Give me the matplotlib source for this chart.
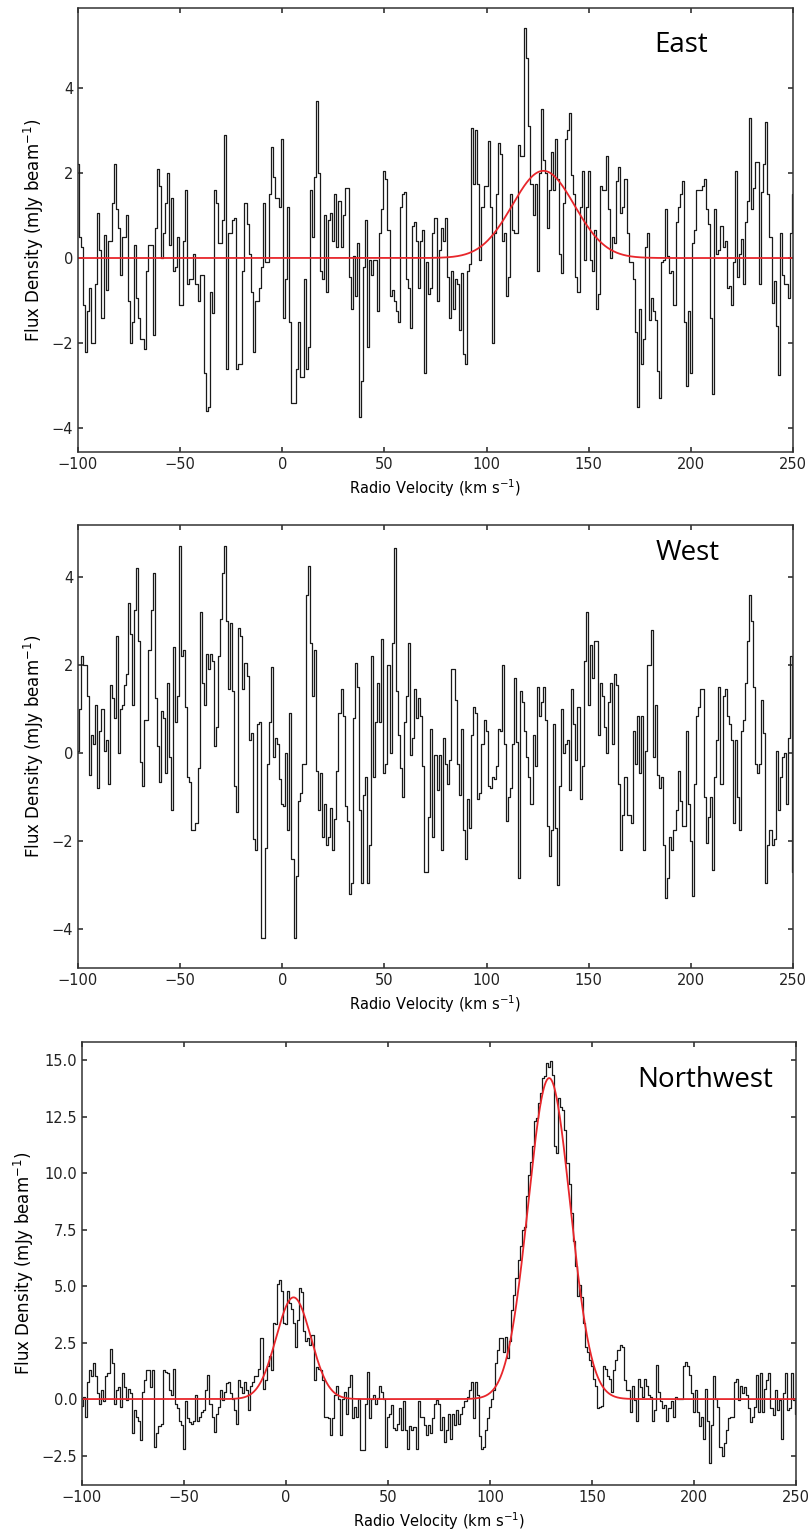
import numpy as np
import matplotlib.pyplot as plt

# channel velocities (km/s), 1 km/s channels
vel = np.arange(-100, 251)

# East spectrum (mJy/beam), one value per channel from -100 to 250
east = [
    2.2, 0.5, 0.25, -1.1, -2.2, -1.25, -0.7, -2.0, -2.0, -0.6,
    1.05, 0.2, -1.4, 0.55, -0.75, 0.4, 0.4, 1.3, 2.2, 1.15,
    0.7, -0.4, 0.5, 0.5, 1.0, -1.0, -2.0, -1.5, 0.3, -0.95,
    -1.4, -1.9, -1.9, -2.15, -0.3, 0.3, 0.3, -1.8, 0.7, 2.1,
    1.7, 0.0, 0.6, 1.3, 2.0, 0.3, 1.4, -0.3, -0.2, 0.5,
    -1.1, -1.1, 0.4, 1.6, -0.6, -0.5, -0.5, 0.1, -0.6, -1.0,
    -0.4, -0.4, -2.7, -3.6, -3.5, -0.8, -1.3, 1.6, 1.3, 0.35,
    0.35, 0.9, 2.9, -2.6, 0.6, 0.6, 0.9, 0.95, -2.6, -2.5,
    -2.5, -0.3, 1.3, 0.8, 0.1, -0.8, -2.2, -1.0, -1.0, -0.7,
    -0.2, 1.3, -0.1, -0.1, 1.5, 2.6, 1.9, 1.4, 1.4, 1.2,
    2.8, -1.4, -0.5, 1.2, -1.5, -3.4, -3.4, -2.6, -1.5, -2.8,
    -2.8, -0.5, -2.6, -2.1, 1.6, 0.5, 1.9, 3.7, 2.0, -0.3,
    -0.5, 1.0, -0.8, 0.9, 1.05, 0.4, 1.5, 0.25, 1.35, 0.25,
    1.0, 1.65, 1.65, -0.45, -1.2, 0.05, -0.9, 0.35, -3.75, -2.9,
    -0.2, 0.9, -2.1, -0.05, -0.4, -0.05, -0.05, -1.25, 0.6, 1.15,
    2.05, 1.85, 0.65, -0.9, -0.75, -1.0, -1.25, -1.5, 1.2, 1.5,
    1.55, -0.5, -0.7, -1.65, 0.75, 0.85, 0.4, -0.7, 0.4, 0.65,
    -2.7, -0.1, -0.85, -0.7, 0.6, 0.95, -1.0, 0.2, 0.7, 0.4,
    0.95, -0.45, -1.4, -0.3, -1.2, -0.5, -0.6, -1.7, -0.35, -2.25,
    -2.5, -0.3, -0.15, 3.05, 1.75, 3.0, 1.75, -0.05, 1.2, 1.7,
    1.7, 2.75, 1.2, -2.0, 0.6, 1.5, 2.7, 2.45, 0.4, 0.6,
    -0.9, -0.45, 1.5, 0.65, 0.6, 0.6, 2.65, 2.4, 2.4, 5.4,
    4.7, 3.1, 1.75, 1.0, 1.75, -0.3, 2.0, 3.5, 2.3, 2.0,
    0.7, 1.6, 2.5, 1.6, 2.8, 1.85, 0.1, -0.35, 1.3, 2.8,
    3.0, 3.4, 1.95, 1.5, -0.45, -0.8, 1.2, 2.05, -0.05, 1.2,
    2.05, -0.05, -0.3, 0.65, -1.2, -0.85, 1.7, 1.6, 1.6, 2.4,
    1.15, 0.0, 0.5, 0.35, 1.8, 2.15, 1.05, 1.2, 1.85, 0.6,
    -0.1, -0.1, -0.5, -1.75, -3.5, -1.2, -2.5, -1.9, 0.25, 0.6,
    -1.45, -0.95, -1.25, -1.45, -2.65, -3.3, -0.1, -0.05, 1.15, 0.05,
    -0.35, -0.3, -1.1, 0.85, 1.2, 1.5, 1.8, -1.5, -3.0, -1.25,
    -2.7, 0.35, 0.65, 1.6, 1.6, 1.6, 1.7, 1.85, 1.15, 0.8,
    -1.4, -3.2, 1.15, 0.1, 0.2, 0.75, 0.25, 0.4, -0.7, -0.65,
    -1.1, -0.1, 2.05, -0.45, 0.1, 0.45, -0.6, 0.85, 1.35, 3.3,
    1.15, 1.65, 2.25, 2.25, -0.6, 1.55, 2.2, 3.2, 1.5, 0.5,
    -1.05, -0.55, -1.6, -2.75, 0.6, -0.4, -0.6, -0.6, -0.95, 0.6,
    1.5,
]

# West spectrum
west = [
    0.05, 1.0, 2.2, 2.0, 2.0, 1.3, -0.5, 0.4, 0.2, 1.1,
    -0.8, 0.5, 1.0, 0.05, 0.3, -0.7, 1.55, 1.25, 0.8, 2.65,
    0.0, 1.0, 1.1, 1.55, 1.8, 3.4, 2.7, 1.1, 3.25, 4.2,
    2.55, -0.2, -0.75, 0.75, 0.75, 2.35, 3.25, 4.1, 1.25, 0.15,
    -0.65, 0.95, 0.8, -0.45, 1.6, -0.1, -1.3, 2.4, 0.7, 1.3,
    4.7, 2.2, 2.35, 1.05, -0.55, -0.65, -1.75, -1.75, -1.6, -0.35,
    3.2, 1.6, 1.1, 2.25, 1.9, 2.25, 2.1, 0.15, 0.6, 2.2,
    3.05, 4.1, 4.7, 3.0, 1.45, 2.95, 1.4, -0.75, -1.35, 2.85,
    2.65, 1.45, 2.05, 1.75, 0.3, 0.45, -1.95, -2.2, 0.65, 0.7,
    -4.2, -4.2, -2.15, -0.25, 0.7, 1.95, -0.1, 0.35, 0.2, -0.6,
    -1.15, -1.2, 0.0, -1.75, 0.9, -2.4, -4.2, -2.8, -1.1, -0.9,
    -0.25, -0.25, 3.6, 4.25, 2.5, 1.3, 2.35, -0.4, -1.3, -0.45,
    -1.9, -1.15, -2.1, -1.9, -1.25, -2.2, -1.5, -0.4, 0.9, 1.45,
    0.85, -1.2, -1.55, -3.2, -2.95, 0.8, 2.05, 1.5, -1.3, -2.95,
    -0.95, -0.55, -2.95, -2.1, 2.2, -0.55, 0.7, 1.6, 0.7, 2.6,
    -0.45, -0.25, 2.0, 0.0, 2.5, 4.65, 1.4, 0.4, -0.35, -1.0,
    0.7, 1.3, 2.5, -0.05, 0.35, 1.45, 0.8, 1.25, 0.85, -0.3,
    -2.7, -2.7, -1.45, 0.55, -1.9, -0.05, -0.85, -0.05, -2.2, 0.35,
    -0.25, -0.7, -0.15, 1.9, 1.9, 1.2, -0.25, -0.95, 0.55, -1.75,
    -2.4, -1.05, -1.7, 0.4, 1.05, 0.9, -1.05, -0.9, 0.2, 0.75,
    0.5, -0.75, -0.8, -0.55, -0.6, -0.3, 0.55, 0.5, 2.0, 0.2,
    -1.55, -1.0, -0.8, 0.2, 1.7, 0.25, -2.85, 1.4, 1.15, 0.5,
    -0.1, -0.55, -1.15, 0.4, -0.3, 1.5, 0.85, 1.15, 1.5, 0.75,
    -1.65, -2.35, -1.75, 0.65, -1.7, -3.0, -0.75, 1.0, 0.0, 0.2,
    0.3, -0.85, 1.45, 0.65, -0.15, 1.05, -1.05, -0.3, 2.1, 3.2,
    1.1, 2.45, 1.7, 2.55, 2.55, 0.4, 1.6, 1.3, 0.6, 0.0,
    1.15, 1.6, 0.2, 1.8, 1.55, -0.7, -2.2, -1.4, -0.55, -1.4,
    -1.4, -1.6, 0.5, -0.25, 0.85, -0.45, 0.85, -2.2, 0.05, 2.0,
    2.0, 2.8, -0.1, 1.1, -0.5, -0.8, -0.55, -2.1, -3.3, -2.85,
    -1.9, -2.2, -1.75, -1.3, -0.4, -1.1, -1.65, -1.65, 0.5, -1.15,
    -2.0, -3.25, -0.7, 0.85, 1.05, 1.45, 1.45, -1.0, -2.05, -1.45,
    -1.0, -2.65, -0.55, 0.3, 1.5, -0.7, 1.3, 1.45, 0.85, 0.65,
    0.3, -1.6, 0.3, -1.0, -1.75, 0.5, 0.75, 1.6, 2.55, 3.6,
    3.0, 1.5, -0.25, -0.45, -0.25, 1.2, 0.45, -2.95, -2.1, -1.75,
    -2.1, -1.95, 0.05, -1.3, -0.55, -0.1, 0.0, -1.15, 0.35, 2.2,
    -2.7,
]

# Northwest spectrum
northwest = [
    -0.3, 0.1, -0.8, 0.75, 1.3, 1.0, 1.6, 1.0, 0.25, -0.2,
    0.4, -0.1, 1.0, 1.15, 2.2, 1.6, -0.2, 0.4, 0.55, -0.35,
    1.15, 0.55, -0.05, 0.45, 0.25, -1.5, -0.5, -0.8, -0.95, -1.8,
    0.3, 0.85, 1.3, 1.3, 0.55, 1.3, -2.1, -1.5, -1.2, -1.1,
    1.3, 1.2, 1.15, 0.4, 0.2, 1.35, -0.2, -0.4, -0.95, -1.15,
    -2.2, -0.1, -0.85, -1.0, -1.1, -0.95, 0.2, -0.95, -0.8, -0.55,
    -0.5, 0.4, 1.05, -0.2, -0.8, -1.45, -0.65, -0.35, 0.4, -0.05,
    0.3, 0.7, 0.75, 0.25, 0.0, -0.5, -1.1, 0.85, 0.55, 0.25,
    0.75, 0.4, -0.5, 0.6, 0.75, 1.0, 1.0, 1.35, 2.7, 0.45,
    0.85, 1.45, 1.9, 1.3, 3.35, 3.3, 5.1, 5.25, 4.8, 3.35,
    3.3, 4.8, 4.25, 4.0, 3.35, 2.3, 3.5, 4.9, 4.75, 3.0,
    2.55, 2.7, 2.4, 2.85, 0.85, 1.4, 1.35, 1.3, 0.85, -0.8,
    -0.8, -0.85, -1.6, -0.85, 0.2, 0.6, 0.0, -1.6, 0.0, 0.3,
    -0.65, 0.55, 1.05, -0.85, -0.35, -0.8, 0.0, -2.25, -2.25, -0.2,
    1.2, -0.85, 0.0, 0.2, -0.2, 0.05, 0.6, 0.3, 0.0, -2.1,
    -0.8, -0.65, -0.25, -1.3, -1.35, -1.1, -0.4, -1.35, -0.1, -1.35,
    -2.2, -1.2, -1.35, -1.25, -2.2, -0.1, -0.8, -0.8, -1.15, -1.6,
    -1.15, -1.5, -0.85, -0.2, -0.05, -0.2, -1.35, -0.8, -1.9, -1.35,
    -0.65, -1.75, -0.65, -1.15, -0.5, -1.1, -0.65, -0.35, -0.1, 0.1,
    0.4, 0.75, -0.85, 0.75, 0.2, -1.65, -2.2, -2.1, -1.35, -0.85,
    -0.35, 0.0, 0.4, 1.6, 2.15, 2.7, 2.7, 2.1, 2.75, 1.8,
    2.55, 3.95, 4.6, 5.35, 6.15, 6.75, 7.5, 7.6, 9.0, 9.9,
    10.5, 11.2, 12.3, 12.45, 13.1, 13.55, 14.2, 14.3, 14.85, 14.7,
    14.95, 14.35, 11.2, 10.9, 13.3, 12.9, 12.8, 11.9, 10.45, 9.5,
    8.25, 7.0, 5.9, 4.55, 5.05, 4.5, 3.35, 2.3, 2.1, 1.75,
    1.45, 0.9, 0.6, -0.4, -0.35, -0.3, 1.45, 1.35, 1.0, 0.9,
    0.3, 1.3, 1.75, 2.15, 2.4, 2.3, 0.85, 0.4, 0.4, -0.55,
    0.6, -0.05, -0.95, 0.9, 0.55, 0.1, 0.9, 0.6, 0.2, 0.1,
    -0.95, -0.5, 1.5, 0.3, -0.1, -0.4, -0.25, -0.95, -0.4, -0.1,
    -0.8, 0.1, 0.0, 0.0, 0.0, 1.45, 1.65, 1.45, 1.05, 0.25,
    -0.55, 0.4, -0.55, -1.2, -0.8, -1.75, 0.45, -0.95, -2.85, -1.15,
    1.0, 0.0, -0.35, -2.1, -2.5, -1.95, -1.35, -0.85, -0.8, -0.8,
    0.75, 0.9, -0.05, 0.6, 0.25, 0.55, 0.2, -0.4, -1.0, -0.8,
    -0.35, 1.05, -0.55, 1.15, -0.55, 0.45, 0.85, 1.15, -0.4, -0.7,
    0.4, -0.5, -0.05, -1.75, 0.25, 1.15, -0.5, -0.4, 1.15, -0.05,
    -0.65,
]

# gaussian fits: (amplitude, centre, sigma)
east_fit = [(2.05, 127.8, 15.2)]
west_fit = []
northwest_fit = [(4.5, 3.7, 8.5), (14.2, 129.0, 10.3)]

names = ['East', 'West', 'Northwest']
spectra = [east, west, northwest]
fits = [east_fit, west_fit, northwest_fit]
ylims = [(-4.56, 5.88), (-4.89, 5.18), (-3.8, 15.8)]
yticks = [[-4, -2, 0, 2, 4], [-4, -2, 0, 2, 4],
          [-2.5, 0.0, 2.5, 5.0, 7.5, 10.0, 12.5, 15.0]]
xticks = [-100, -50, 0, 50, 100, 150, 200, 250]

# axes boxes in figure fraction
boxes = [[0.0963, 0.7050, 0.8827, 0.2898],
         [0.0963, 0.3681, 0.8827, 0.2892],
         [0.1012, 0.0307, 0.8815, 0.2892]]
label_pos = [(0.843, 0.917), (0.852, 0.937), (0.873, 0.914)]

fig = plt.figure(figsize=(8.1, 15.32), dpi=100)

for i in range(3):
    ax = fig.add_axes(boxes[i])
    flux = np.array(spectra[i])
    v = vel[:len(flux)]
    ax.step(v, flux, where='mid', color='#1a1a1a', lw=0.9)

    if fits[i]:
        vv = np.linspace(-100, 250, 1400)
        model = np.zeros_like(vv)
        for a, mu, sig in fits[i]:
            model += a * np.exp(-0.5 * ((vv - mu) / sig) ** 2)
        ax.plot(vv, model, color='#e8262b', lw=1.3)

    ax.set_xlim(-100, 250)
    ax.set_ylim(*ylims[i])
    ax.set_xticks(xticks)
    ax.set_yticks(yticks[i])
    ax.tick_params(direction='in', top=True, right=True, length=3.6,
                   width=1.1, labelsize=10.5, colors='#222222')
    for s in ax.spines.values():
        s.set_linewidth(1.1)
        s.set_color('#333333')
    ax.set_xlabel('Radio Velocity (km s$^{-1}$)', fontsize=10.5)
    ax.set_ylabel('Flux Density (mJy beam$^{-1}$)', fontsize=12)
    ax.text(label_pos[i][0], label_pos[i][1], names[i], transform=ax.transAxes,
            ha='center', va='center', fontsize=20, family='Open Sans')

fig.savefig('out.png', dpi=100)
